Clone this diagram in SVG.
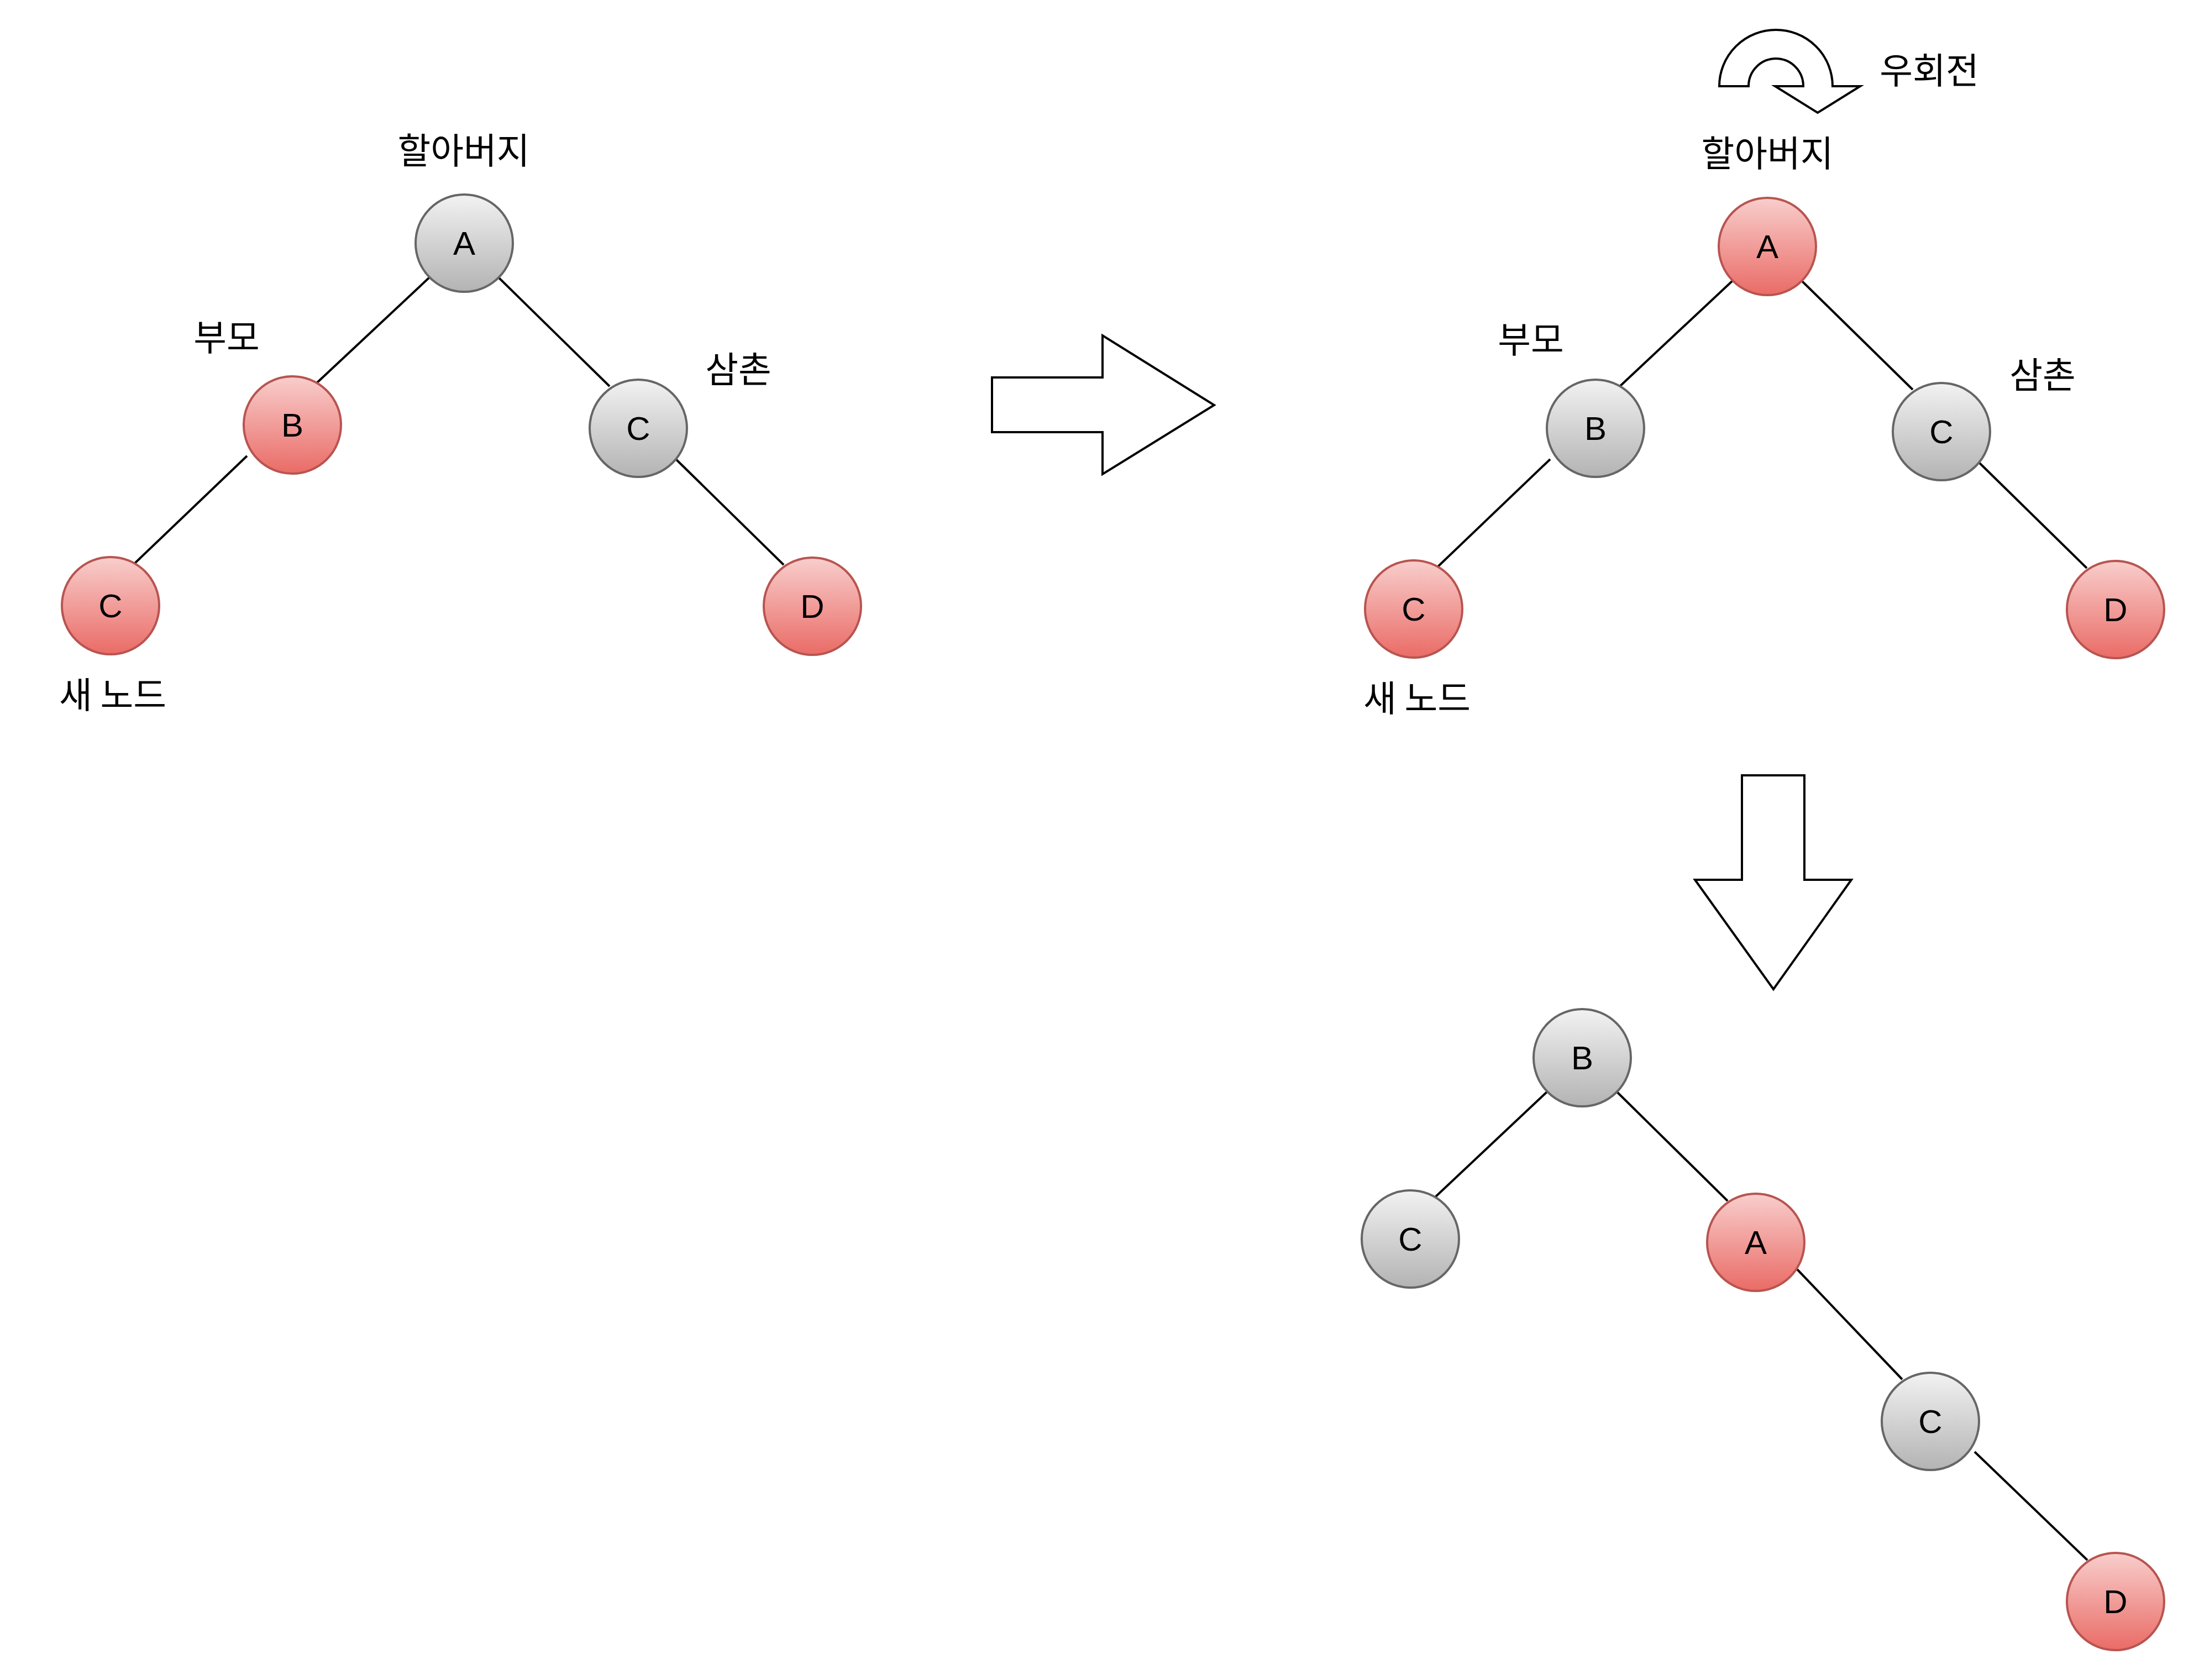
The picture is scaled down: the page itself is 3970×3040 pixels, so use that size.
<svg xmlns="http://www.w3.org/2000/svg" width="3970" height="3040" viewBox="0 0 3970 3040">
<style>
.g{fill:url(#gray);stroke:#666666;stroke-width:4}
.r{fill:url(#red);stroke:#b85450;stroke-width:4}
.nt{font-family:"Liberation Sans",Arial,sans-serif;font-size:60px;fill:#000;text-anchor:middle}
.lb{font-family:"Noto Sans CJK KR","Noto Sans",sans-serif;font-size:65px;fill:#000;text-anchor:middle}
.e{stroke:#000;stroke-width:4;fill:none}
.bigarrow{fill:#fff;stroke:#000;stroke-width:4;stroke-linejoin:miter}
</style>
<defs>
<linearGradient id="gray" x1="0" y1="0" x2="0" y2="1">
<stop offset="0" stop-color="#f2f2f2"/>
<stop offset="1" stop-color="#b3b3b3"/>
</linearGradient>
<linearGradient id="red" x1="0" y1="0" x2="0" y2="1">
<stop offset="0" stop-color="#f8cecc"/>
<stop offset="1" stop-color="#ea6b66"/>
</linearGradient>
</defs>
<rect width="3970" height="3040" fill="#ffffff"/>

<g id="connectors">
<line class="e" x1="777" y1="502" x2="572" y2="694"/>
<line class="e" x1="902" y1="502" x2="1103" y2="699"/>
<line class="e" x1="447" y1="825" x2="242" y2="1021"/>
<line class="e" x1="1218" y1="826" x2="1418" y2="1022"/>
<line class="e" x1="3135" y1="508" x2="2930" y2="700"/>
<line class="e" x1="3260" y1="508" x2="3461" y2="705"/>
<line class="e" x1="2805" y1="831" x2="2600" y2="1027"/>
<line class="e" x1="3576" y1="832" x2="3776" y2="1028"/>
<line class="e" x1="2800" y1="1975" x2="2596" y2="2167"/>
<line class="e" x1="2925" y1="1975" x2="3126" y2="2173"/>
<line class="e" x1="3252" y1="2297" x2="3442" y2="2496"/>
<line class="e" x1="3573" y1="2627" x2="3777" y2="2823"/>
</g>

<g id="left-tree">
<g id="L-A"><circle class="g" cx="840" cy="440" r="88"/><text class="nt" x="840" y="461">A</text></g>
<g id="L-B"><circle class="r" cx="529" cy="769" r="88"/><text class="nt" x="529" y="790">B</text></g>
<g id="L-C"><circle class="g" cx="1155" cy="775" r="88"/><text class="nt" x="1155" y="796">C</text></g>
<g id="L-D"><circle class="r" cx="1470" cy="1097" r="88"/><text class="nt" x="1470" y="1118">D</text></g>
<g id="L-Cnew"><circle class="r" cx="200" cy="1096" r="88"/><text class="nt" x="200" y="1117">C</text></g>
<text class="lb" x="839" y="296">할아버지</text>
<text class="lb" x="410" y="634">부모</text>
<text class="lb" x="1336" y="692">삼촌</text>
<text class="lb" x="204" y="1281">새 노드</text>
</g>

<g id="arrow-right"><polygon class="bigarrow" points="1795,683 1995,683 1995,607 2197,733 1995,858 1995,782 1795,782"/></g>

<g id="rotate">
<path class="bigarrow" d="M3111,156 A102.5,102 0 0 1 3316,156 L3366,156 L3289,204 L3212,156 L3263,156 A49.5,50 0 0 0 3164,156 Z"/>
<text class="lb" x="3491" y="151">우회전</text>
</g>

<g id="right-tree">
<g id="R-A"><circle class="r" cx="3198" cy="446" r="88"/><text class="nt" x="3198" y="467">A</text></g>
<g id="R-B"><circle class="g" cx="2887" cy="775" r="88"/><text class="nt" x="2887" y="796">B</text></g>
<g id="R-C"><circle class="g" cx="3513" cy="781" r="88"/><text class="nt" x="3513" y="802">C</text></g>
<g id="R-D"><circle class="r" cx="3828" cy="1103" r="88"/><text class="nt" x="3828" y="1124">D</text></g>
<g id="R-Cnew"><circle class="r" cx="2558" cy="1102" r="88"/><text class="nt" x="2558" y="1123">C</text></g>
<text class="lb" x="3198" y="301">할아버지</text>
<text class="lb" x="2770" y="638">부모</text>
<text class="lb" x="3696" y="702">삼촌</text>
<text class="lb" x="2564" y="1287">새 노드</text>
</g>

<g id="arrow-down"><polygon class="bigarrow" points="3152,1403 3265,1403 3265,1592 3350,1592 3209,1790 3067,1592 3152,1592"/></g>

<g id="bottom-tree">
<g id="B-B"><circle class="g" cx="2863" cy="1914" r="88"/><text class="nt" x="2863" y="1935">B</text></g>
<g id="B-C1"><circle class="g" cx="2552" cy="2242" r="88"/><text class="nt" x="2552" y="2263">C</text></g>
<g id="B-A"><circle class="r" cx="3177" cy="2248" r="88"/><text class="nt" x="3177" y="2269">A</text></g>
<g id="B-C2"><circle class="g" cx="3493" cy="2572" r="88"/><text class="nt" x="3493" y="2593">C</text></g>
<g id="B-D"><circle class="r" cx="3828" cy="2898" r="88"/><text class="nt" x="3828" y="2919">D</text></g>
</g>
</svg>
